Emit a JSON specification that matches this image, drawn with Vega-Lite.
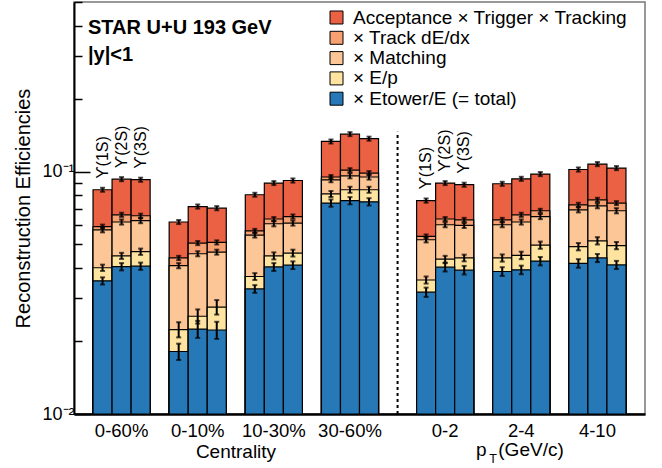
{
  "$schema": "https://vega.github.io/schema/vega-lite/v6.json",
  "width": 571,
  "height": 412,
  "autosize": {"type": "none"},
  "padding": {"left": 74, "top": 2, "right": 17, "bottom": 54},
  "background": "white",
  "config": {
    "font": "Liberation Sans",
    "view": {"stroke": "#777777", "strokeWidth": 1.5},
    "axis": {"labelFont": "Liberation Sans", "titleFont": "Liberation Sans", "labelColor": "black", "titleColor": "black", "titleFontWeight": "normal", "grid": false}
  },
  "title": {
    "text": "STAR U+U 193 GeV",
    "subtitle": "|y|<1",
    "anchor": "start",
    "frame": "group",
    "offset": -72,
    "dx": 14,
    "fontSize": 20,
    "fontWeight": "bold",
    "font": "Liberation Sans",
    "color": "black",
    "subtitleFontSize": 20,
    "subtitleFontWeight": "bold",
    "subtitleFont": "Liberation Sans",
    "subtitleColor": "black",
    "subtitlePadding": 7
  },
  "datasets": {
    "eff": [
      {"b": "0-60%|1S", "l": "a", "v": 0.0841, "e": 0.0016},
      {"b": "0-60%|1S", "l": "d", "v": 0.0593, "e": 0.0011},
      {"b": "0-60%|1S", "l": "m", "v": 0.0575, "e": 0.0014},
      {"b": "0-60%|1S", "l": "p", "v": 0.0401, "e": 0.0012},
      {"b": "0-60%|1S", "l": "t", "v": 0.0354, "e": 0.0012},
      {"b": "0-60%|2S", "l": "a", "v": 0.0930, "e": 0.0018},
      {"b": "0-60%|2S", "l": "d", "v": 0.0663, "e": 0.0013},
      {"b": "0-60%|2S", "l": "m", "v": 0.0619, "e": 0.0015},
      {"b": "0-60%|2S", "l": "p", "v": 0.0449, "e": 0.0013},
      {"b": "0-60%|2S", "l": "t", "v": 0.0405, "e": 0.0014},
      {"b": "0-60%|3S", "l": "a", "v": 0.0925, "e": 0.0018},
      {"b": "0-60%|3S", "l": "d", "v": 0.0657, "e": 0.0013},
      {"b": "0-60%|3S", "l": "m", "v": 0.0627, "e": 0.0015},
      {"b": "0-60%|3S", "l": "p", "v": 0.0467, "e": 0.0014},
      {"b": "0-60%|3S", "l": "t", "v": 0.0407, "e": 0.0014},
      {"b": "0-10%|1S", "l": "a", "v": 0.0619, "e": 0.0012},
      {"b": "0-10%|1S", "l": "d", "v": 0.0440, "e": 0.0009},
      {"b": "0-10%|1S", "l": "m", "v": 0.0409, "e": 0.0010},
      {"b": "0-10%|1S", "l": "p", "v": 0.0223, "e": 0.0016},
      {"b": "0-10%|1S", "l": "t", "v": 0.0181, "e": 0.0014},
      {"b": "0-10%|2S", "l": "a", "v": 0.0717, "e": 0.0014},
      {"b": "0-10%|2S", "l": "d", "v": 0.0507, "e": 0.0010},
      {"b": "0-10%|2S", "l": "m", "v": 0.0458, "e": 0.0011},
      {"b": "0-10%|2S", "l": "p", "v": 0.0253, "e": 0.0017},
      {"b": "0-10%|2S", "l": "t", "v": 0.0224, "e": 0.0018},
      {"b": "0-10%|3S", "l": "a", "v": 0.0706, "e": 0.0014},
      {"b": "0-10%|3S", "l": "d", "v": 0.0510, "e": 0.0010},
      {"b": "0-10%|3S", "l": "m", "v": 0.0465, "e": 0.0011},
      {"b": "0-10%|3S", "l": "p", "v": 0.0276, "e": 0.0019},
      {"b": "0-10%|3S", "l": "t", "v": 0.0222, "e": 0.0018},
      {"b": "10-30%|1S", "l": "a", "v": 0.0802, "e": 0.0015},
      {"b": "10-30%|1S", "l": "d", "v": 0.0569, "e": 0.0011},
      {"b": "10-30%|1S", "l": "m", "v": 0.0547, "e": 0.0013},
      {"b": "10-30%|1S", "l": "p", "v": 0.0369, "e": 0.0012},
      {"b": "10-30%|1S", "l": "t", "v": 0.0328, "e": 0.0012},
      {"b": "10-30%|2S", "l": "a", "v": 0.0896, "e": 0.0017},
      {"b": "10-30%|2S", "l": "d", "v": 0.0637, "e": 0.0012},
      {"b": "10-30%|2S", "l": "m", "v": 0.0609, "e": 0.0015},
      {"b": "10-30%|2S", "l": "p", "v": 0.0449, "e": 0.0015},
      {"b": "10-30%|2S", "l": "t", "v": 0.0404, "e": 0.0015},
      {"b": "10-30%|3S", "l": "a", "v": 0.0918, "e": 0.0018},
      {"b": "10-30%|3S", "l": "d", "v": 0.0652, "e": 0.0013},
      {"b": "10-30%|3S", "l": "m", "v": 0.0613, "e": 0.0015},
      {"b": "10-30%|3S", "l": "p", "v": 0.0461, "e": 0.0015},
      {"b": "10-30%|3S", "l": "t", "v": 0.0411, "e": 0.0015},
      {"b": "30-60%|1S", "l": "a", "v": 0.1330, "e": 0.0026},
      {"b": "30-60%|1S", "l": "d", "v": 0.0949, "e": 0.0018},
      {"b": "30-60%|1S", "l": "m", "v": 0.0924, "e": 0.0022},
      {"b": "30-60%|1S", "l": "p", "v": 0.0808, "e": 0.0023},
      {"b": "30-60%|1S", "l": "t", "v": 0.0741, "e": 0.0025},
      {"b": "30-60%|2S", "l": "a", "v": 0.1426, "e": 0.0027},
      {"b": "30-60%|2S", "l": "d", "v": 0.1013, "e": 0.0019},
      {"b": "30-60%|2S", "l": "m", "v": 0.0960, "e": 0.0023},
      {"b": "30-60%|2S", "l": "p", "v": 0.0841, "e": 0.0024},
      {"b": "30-60%|2S", "l": "t", "v": 0.0758, "e": 0.0026},
      {"b": "30-60%|3S", "l": "a", "v": 0.1366, "e": 0.0026},
      {"b": "30-60%|3S", "l": "d", "v": 0.0985, "e": 0.0019},
      {"b": "30-60%|3S", "l": "m", "v": 0.0949, "e": 0.0023},
      {"b": "30-60%|3S", "l": "p", "v": 0.0841, "e": 0.0024},
      {"b": "30-60%|3S", "l": "t", "v": 0.0750, "e": 0.0026},
      {"b": "0-2|1S", "l": "a", "v": 0.0759, "e": 0.0015},
      {"b": "0-2|1S", "l": "d", "v": 0.0540, "e": 0.0010},
      {"b": "0-2|1S", "l": "m", "v": 0.0523, "e": 0.0013},
      {"b": "0-2|1S", "l": "p", "v": 0.0357, "e": 0.0012},
      {"b": "0-2|1S", "l": "t", "v": 0.0318, "e": 0.0014},
      {"b": "0-2|2S", "l": "a", "v": 0.0896, "e": 0.0017},
      {"b": "0-2|2S", "l": "d", "v": 0.0637, "e": 0.0012},
      {"b": "0-2|2S", "l": "m", "v": 0.0603, "e": 0.0014},
      {"b": "0-2|2S", "l": "p", "v": 0.0435, "e": 0.0014},
      {"b": "0-2|2S", "l": "t", "v": 0.0403, "e": 0.0016},
      {"b": "0-2|3S", "l": "a", "v": 0.0882, "e": 0.0017},
      {"b": "0-2|3S", "l": "d", "v": 0.0632, "e": 0.0012},
      {"b": "0-2|3S", "l": "m", "v": 0.0599, "e": 0.0014},
      {"b": "0-2|3S", "l": "p", "v": 0.0440, "e": 0.0014},
      {"b": "0-2|3S", "l": "t", "v": 0.0392, "e": 0.0016},
      {"b": "2-4|1S", "l": "a", "v": 0.0890, "e": 0.0017},
      {"b": "2-4|1S", "l": "d", "v": 0.0632, "e": 0.0012},
      {"b": "2-4|1S", "l": "m", "v": 0.0603, "e": 0.0014},
      {"b": "2-4|1S", "l": "p", "v": 0.0440, "e": 0.0015},
      {"b": "2-4|1S", "l": "t", "v": 0.0387, "e": 0.0016},
      {"b": "2-4|2S", "l": "a", "v": 0.0933, "e": 0.0018},
      {"b": "2-4|2S", "l": "d", "v": 0.0663, "e": 0.0013},
      {"b": "2-4|2S", "l": "m", "v": 0.0619, "e": 0.0015},
      {"b": "2-4|2S", "l": "p", "v": 0.0451, "e": 0.0016},
      {"b": "2-4|2S", "l": "t", "v": 0.0393, "e": 0.0016},
      {"b": "2-4|3S", "l": "a", "v": 0.0976, "e": 0.0019},
      {"b": "2-4|3S", "l": "d", "v": 0.0689, "e": 0.0013},
      {"b": "2-4|3S", "l": "m", "v": 0.0652, "e": 0.0016},
      {"b": "2-4|3S", "l": "p", "v": 0.0497, "e": 0.0017},
      {"b": "2-4|3S", "l": "t", "v": 0.0427, "e": 0.0017},
      {"b": "4-10|1S", "l": "a", "v": 0.1019, "e": 0.0020},
      {"b": "4-10|1S", "l": "d", "v": 0.0729, "e": 0.0014},
      {"b": "4-10|1S", "l": "m", "v": 0.0695, "e": 0.0017},
      {"b": "4-10|1S", "l": "p", "v": 0.0490, "e": 0.0017},
      {"b": "4-10|1S", "l": "t", "v": 0.0418, "e": 0.0017},
      {"b": "4-10|2S", "l": "a", "v": 0.1073, "e": 0.0021},
      {"b": "4-10|2S", "l": "d", "v": 0.0764, "e": 0.0015},
      {"b": "4-10|2S", "l": "m", "v": 0.0722, "e": 0.0017},
      {"b": "4-10|2S", "l": "p", "v": 0.0518, "e": 0.0018},
      {"b": "4-10|2S", "l": "t", "v": 0.0440, "e": 0.0017},
      {"b": "4-10|3S", "l": "a", "v": 0.1033, "e": 0.0020},
      {"b": "4-10|3S", "l": "d", "v": 0.0741, "e": 0.0014},
      {"b": "4-10|3S", "l": "m", "v": 0.0689, "e": 0.0017},
      {"b": "4-10|3S", "l": "p", "v": 0.0495, "e": 0.0017},
      {"b": "4-10|3S", "l": "t", "v": 0.0412, "e": 0.0016}
    ],
    "ups": [
      {"b": "0-60%|1S", "s": "ϒ(1S)", "v": 0.0841},
      {"b": "0-60%|2S", "s": "ϒ(2S)", "v": 0.0930},
      {"b": "0-60%|3S", "s": "ϒ(3S)", "v": 0.0925},
      {"b": "0-2|1S", "s": "ϒ(1S)", "v": 0.0759},
      {"b": "0-2|2S", "s": "ϒ(2S)", "v": 0.0896},
      {"b": "0-2|3S", "s": "ϒ(3S)", "v": 0.0882}
    ]
  },
  "data": {"name": "eff"},
  "layer": [
    {
      "mark": {"type": "bar", "stroke": "black", "strokeWidth": 1.2, "opacity": 1},
      "encoding": {
        "x": {
          "field": "b",
          "type": "nominal",
          "scale": {
            "domain": ["e0", "0-60%|1S", "0-60%|2S", "0-60%|3S", "e4", "0-10%|1S", "0-10%|2S", "0-10%|3S", "e8", "10-30%|1S", "10-30%|2S", "10-30%|3S", "e12", "30-60%|1S", "30-60%|2S", "30-60%|3S", "e16", "e17", "0-2|1S", "0-2|2S", "0-2|3S", "e21", "2-4|1S", "2-4|2S", "2-4|3S", "e25", "4-10|1S", "4-10|2S", "4-10|3S", "e29"],
            "paddingInner": 0,
            "paddingOuter": 0
          },
          "axis": {
            "title": "Centrality",
            "titleX": 161.5,
            "titleY": 37,
            "titleBaseline": "middle",
            "titleAlign": "center",
            "titleFontSize": 19,
            "labelExpr": "indexof(datum.value, '|2S') >= 0 ? split(datum.value, '|')[0] : ''",
            "labelAngle": 0,
            "labelFontSize": 18.5,
            "labelPadding": 7,
            "labelBaseline": "top",
            "labelOverlap": false,
            "ticks": false,
            "domainColor": "black",
            "domainWidth": 2.5
          }
        },
        "y": {
          "field": "v",
          "type": "quantitative",
          "stack": null,
          "scale": {"type": "log", "domain": [0.01, 0.5], "nice": false},
          "axis": {
            "title": "Reconstruction Efficiencies",
            "titleFontSize": 20,
            "titleX": -51,
            "titleY": 206,
            "titleAngle": 270,
            "titleBaseline": "middle",
            "titleAlign": "center",
            "values": [0.01, 0.02, 0.03, 0.04, 0.05, 0.06, 0.07, 0.08, 0.09, 0.1, 0.2, 0.3, 0.4, 0.5],
            "labelExpr": "datum.value == 0.1 ? '10⁻¹' : (datum.value == 0.01 ? '10⁻²' : '')",
            "labelFontSize": 18,
            "labelPadding": 16,
            "tickSize": {"condition": {"test": "datum.value == 0.1 || datum.value == 0.01", "value": -16}, "value": -8},
            "tickColor": "black",
            "tickWidth": 1.5,
            "domainColor": "black",
            "domainWidth": 2,
            "labelOverlap": false
          }
        },
        "y2": {"datum": 0.01},
        "color": {
          "field": "l",
          "type": "nominal",
          "scale": {"domain": ["a", "d", "m", "p", "t"], "range": ["#eb6143", "#f7a072", "#fdc696", "#fee4a0", "#2778b7"]},
          "legend": {
            "title": null,
            "orient": "none",
            "legendX": 253,
            "legendY": 6,
            "direction": "vertical",
            "symbolType": "square",
            "symbolSize": 169,
            "symbolStrokeColor": "black",
            "symbolStrokeWidth": 1,
            "symbolOpacity": 1,
            "labelFontSize": 19,
            "labelFont": "Liberation Sans",
            "labelColor": "black",
            "labelOffset": 7,
            "rowPadding": 0.3,
            "labelLimit": 500,
            "padding": 0,
            "labelExpr": "datum.value == 'a' ? 'Acceptance × Trigger × Tracking' : datum.value == 'd' ? '\u00a0× Track dE/dx' : datum.value == 'm' ? '\u00a0× Matching' : datum.value == 'p' ? '\u00a0× E/p' : '\u00a0× Etower/E (= total)'"
          }
        },
        "order": {"field": "l", "type": "ordinal", "sort": "ascending"}
      }
    },
    {
      "mark": {"type": "errorbar", "ticks": {"size": 5, "thickness": 2}, "thickness": 2, "color": "black"},
      "encoding": {
        "x": {"field": "b", "type": "nominal"},
        "y": {"field": "v", "type": "quantitative", "title": "Reconstruction Efficiencies"},
        "yError": {"field": "e"}
      }
    },
    {
      "data": {"name": "ups"},
      "mark": {"type": "text", "angle": 270, "align": "left", "baseline": "middle", "dx": 11, "fontSize": 16, "font": "Liberation Sans", "color": "black"},
      "encoding": {
        "x": {"field": "b", "type": "nominal"},
        "y": {"field": "v", "type": "quantitative", "title": "Reconstruction Efficiencies"},
        "text": {"field": "s"}
      }
    },
    {
      "data": {"values": [{}]},
      "mark": {"type": "rule", "strokeDash": [3, 3], "strokeWidth": 2, "color": "black"},
      "encoding": {
        "x": {"datum": "e17", "bandPosition": 0},
        "y": {"datum": 0.01},
        "y2": {"datum": 0.146}
      }
    },
    {
      "data": {"values": [{}]},
      "mark": {"type": "text", "text": "p", "fontSize": 19, "align": "center", "baseline": "middle", "dx": -40, "color": "black"},
      "encoding": {"x": {"datum": "2-4|2S"}, "y": {"datum": 0.0071}}
    },
    {
      "data": {"values": [{}]},
      "mark": {"type": "text", "text": "T", "fontSize": 12.5, "align": "left", "baseline": "middle", "dx": -32, "dy": 9, "color": "black"},
      "encoding": {"x": {"datum": "2-4|2S"}, "y": {"datum": 0.0071}}
    },
    {
      "data": {"values": [{}]},
      "mark": {"type": "text", "text": "(GeV/c)", "fontSize": 19, "align": "left", "baseline": "middle", "dx": -23, "color": "black"},
      "encoding": {"x": {"datum": "2-4|2S"}, "y": {"datum": 0.0071}}
    }
  ]
}
